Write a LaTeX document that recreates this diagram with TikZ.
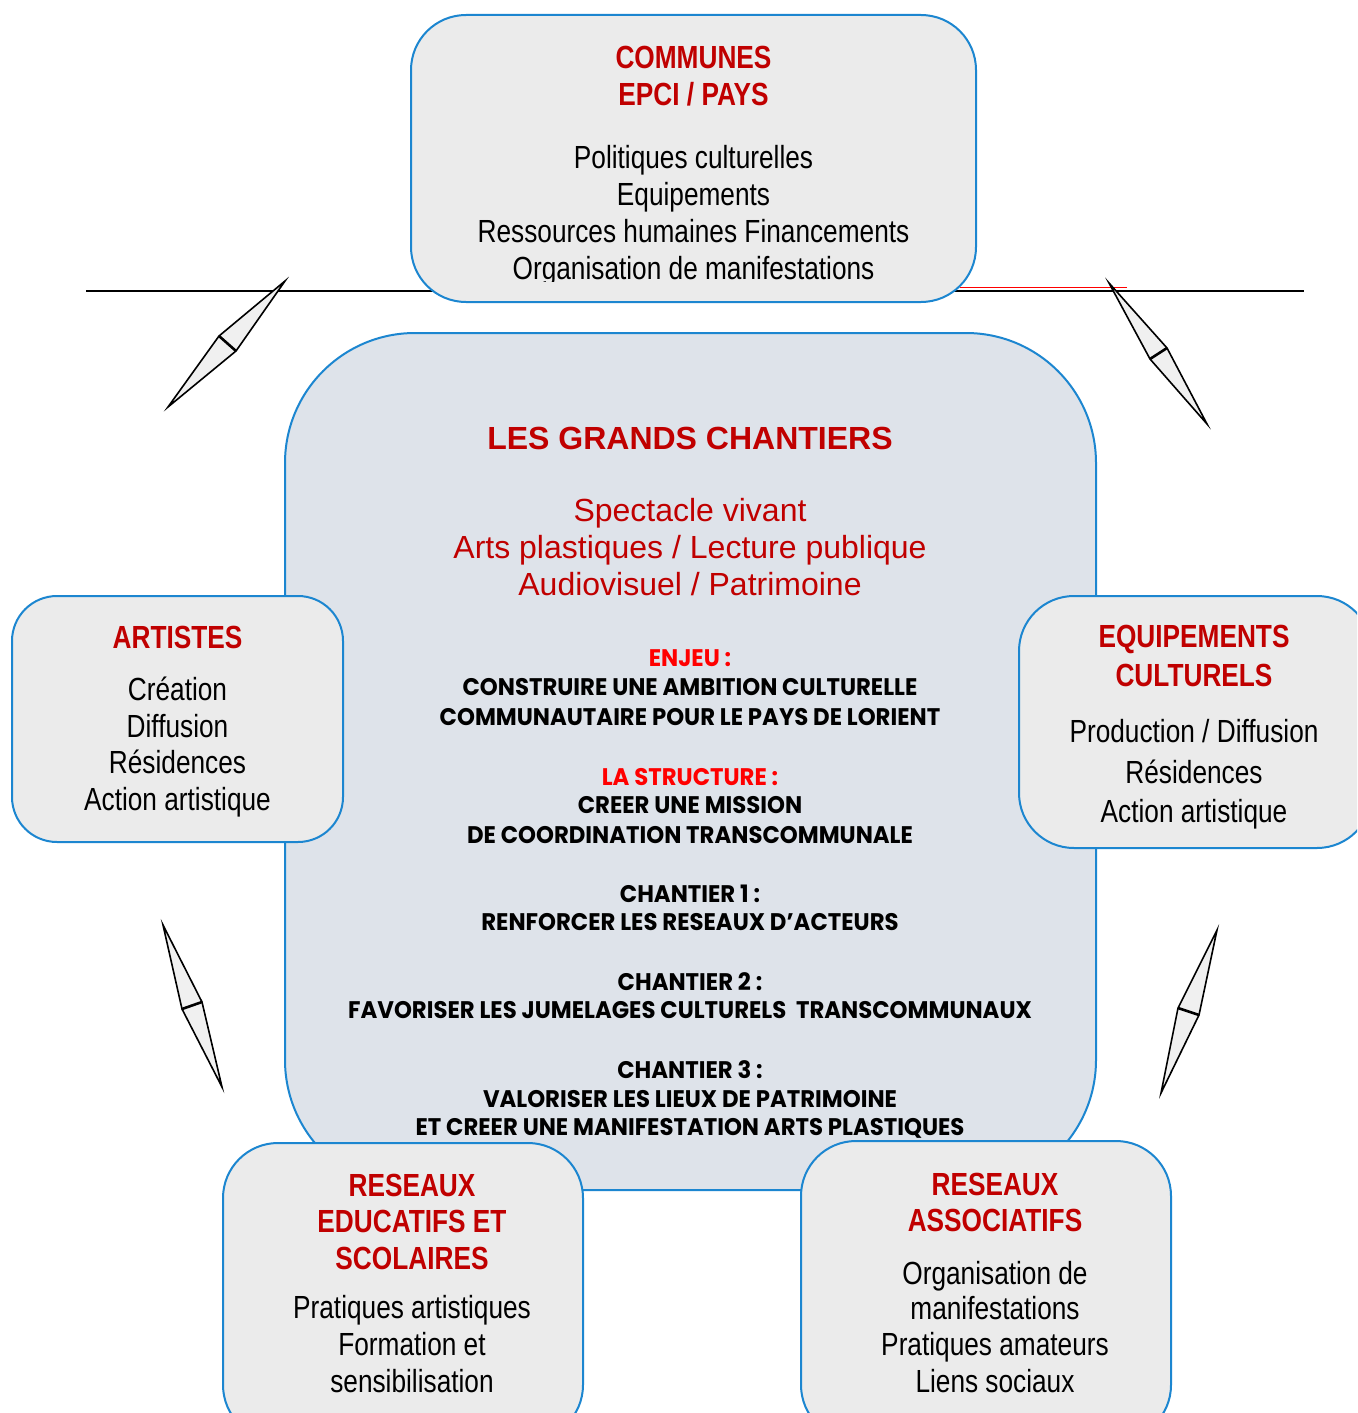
\documentclass[tikz,border=0pt]{standalone}
\usepackage{fontspec}
\setmainfont{Liberation Sans}
\newfontfamily\narrowfont[FakeStretch=0.82]{Liberation Sans}
\newfontfamily\gothicfont[FakeStretch=0.95]{Poppins}
\definecolor{bblue}{RGB}{28,134,208}
\definecolor{boxgray}{RGB}{235,235,235}
\definecolor{cgray}{RGB}{222,227,234}
\definecolor{dred}{RGB}{192,0,0}
\definecolor{bred}{RGB}{255,0,0}
\definecolor{needlefill}{RGB}{240,240,240}
\tikzset{
  box/.style={draw=bblue, line width=2pt, fill=boxgray, rounded corners=55pt, inner sep=0pt},
  cbox/.style={draw=bblue, line width=2pt, fill=cgray, rounded corners=130pt, inner sep=0pt},
  ttl/.style={anchor=base, inner sep=0pt, text=dred, font=\narrowfont\bfseries\fontsize{32}{37}\selectfont},
  txt/.style={anchor=base, inner sep=0pt, font=\narrowfont\fontsize{32}{37}\selectfont},
  bigttl/.style={anchor=base, inner sep=0pt, text=dred, font=\bfseries\fontsize{32}{37}\selectfont},
  subttl/.style={anchor=base, inner sep=0pt, text=dred, font=\fontsize{32}{37}\selectfont},
  gb/.style={anchor=base, inner sep=0pt, font=\gothicfont\bfseries\fontsize{24}{29}\selectfont},
  gbr/.style={gb, text=bred},
  needle/.style={draw=black, line width=1.6pt, fill=needlefill, line join=miter},
  needlebar/.style={draw=black, line width=2.6pt},
  hline/.style={draw=black, line width=2pt},
}
\begin{document}
\begin{tikzpicture}[x=1pt,y=-1pt]
\useasboundingbox (0,0) rectangle (1357,1413);
\clip (0,0) rectangle (1357,1413);
\fill[white] (0,0) rectangle (1357,1413);

% horizontal lines
\coordinate (hl1) at (86,291);
\coordinate (hl2) at (1304,291);
\draw[hline] (hl1) -- (hl2);
\coordinate (rl1) at (960,287);
\coordinate (rl2) at (1127,287);
\draw[bred, line width=1pt] (rl1) -- (rl2);

% central box
\node[cbox, minimum width=811pt, minimum height=857pt] (central) at (690.5,761.5) {};

% outer boxes
\node[box, minimum width=565pt, minimum height=287pt] (communes) at (693.5,158.5) {};
\node[box, rounded corners=45pt, minimum width=331pt, minimum height=246pt] (artistes) at (177.5,719) {};
\node[box, minimum width=353pt, minimum height=252pt] (equip) at (1195.5,722) {};
\node[box, minimum width=360pt, minimum height=297pt] (educ) at (403,1291.5) {};
\node[box, minimum width=370pt, minimum height=299pt] (asso) at (986,1290.5) {};

% needles
\coordinate (n1a) at (285,281); \coordinate (n1b) at (168,407);
\coordinate (n1c) at (219,336); \coordinate (n1d) at (236,351);
\draw[needle] (n1a) -- (n1d) -- (n1b) -- (n1c) -- cycle;
\draw[needlebar] (n1c) -- (n1d);

\coordinate (n2a) at (1109,283); \coordinate (n2b) at (1207,424);
\coordinate (n2c) at (1150,359); \coordinate (n2d) at (1167,348);
\draw[needle] (n2a) -- (n2d) -- (n2b) -- (n2c) -- cycle;
\draw[needlebar] (n2c) -- (n2d);

\coordinate (n3a) at (163,925); \coordinate (n3b) at (222,1087);
\coordinate (n3c) at (182,1009); \coordinate (n3d) at (202,1002);
\draw[needle] (n3a) -- (n3d) -- (n3b) -- (n3c) -- cycle;
\draw[needlebar] (n3c) -- (n3d);

\coordinate (n4a) at (1217,930); \coordinate (n4b) at (1161,1093);
\coordinate (n4c) at (1178,1008); \coordinate (n4d) at (1199,1015);
\draw[needle] (n4a) -- (n4d) -- (n4b) -- (n4c) -- cycle;
\draw[needlebar] (n4c) -- (n4d);

% communes text
\node[ttl] (c1) at (693.5,68.5) {COMMUNES};
\node[ttl] (c2) at (693.5,105.5) {EPCI / PAYS};
\node[txt] (c3) at (693.5,168) {Politiques culturelles};
\node[txt] (c4) at (693.5,205) {Equipements};
\node[txt] (c5) at (693.5,242) {Ressources humaines Financements};
\begin{scope}
\clip (411,15) rectangle (976,281);
\node[txt] (c6) at (693.5,279) {Organisation de manifestations};
\end{scope}

% artistes text
\node[ttl] (a1) at (177.5,648) {ARTISTES};
\node[txt] (a2) at (177.5,700) {Création};
\node[txt] (a3) at (177.5,737) {Diffusion};
\node[txt] (a4) at (177.5,773) {Résidences};
\node[txt] (a5) at (177.5,810) {Action artistique};

% equipements text
\node[ttl] (e1) at (1194,647) {EQUIPEMENTS};
\node[ttl] (e2) at (1194,686) {CULTURELS};
\node[txt] (e3) at (1194,742) {Production / Diffusion};
\node[txt] (e4) at (1194,783) {Résidences};
\begin{scope}
\clip (1019,596) rectangle (1357,828);
\node[txt] (e5) at (1194,822) {Action artistique};
\end{scope}

% educatifs text
\node[ttl] (r1) at (412,1196) {RESEAUX};
\node[ttl] (r2) at (412,1232) {EDUCATIFS ET};
\node[ttl] (r3) at (412,1269) {SCOLAIRES};
\node[txt] (r4) at (412,1318) {Pratiques artistiques};
\node[txt] (r5) at (412,1355) {Formation et};
\node[txt] (r6) at (412,1392) {sensibilisation};

% associatifs text
\node[ttl] (s1) at (995,1195) {RESEAUX};
\node[ttl] (s2) at (995,1231) {ASSOCIATIFS};
\node[txt] (s3) at (995,1284) {Organisation de};
\node[txt] (s4) at (995,1319) {manifestations};
\node[txt] (s5) at (995,1355) {Pratiques amateurs};
\node[txt] (s6) at (995,1392) {Liens sociaux};

% central text
\node[bigttl] (g0) at (690,449) {LES GRANDS CHANTIERS};
\node[subttl] (g1) at (690,521) {Spectacle vivant};
\node[subttl] (g2) at (690,558) {Arts plastiques / Lecture publique};
\node[subttl] (g3) at (690,595) {Audiovisuel / Patrimoine};

\node[gbr] (k1) at (690,666) {ENJEU :};
\node[gb] (k2) at (690,695) {CONSTRUIRE UNE AMBITION CULTURELLE};
\node[gb] (k3) at (690,725) {COMMUNAUTAIRE POUR LE PAYS DE LORIENT};
\node[gbr] (k4) at (690,785) {LA STRUCTURE :};
\node[gb] (k5) at (690,813) {CREER UNE MISSION};
\node[gb] (k6) at (690,843) {DE COORDINATION TRANSCOMMUNALE};
\node[gb] (k7) at (690,902) {CHANTIER 1 :};
\node[gb] (k8) at (690,930) {RENFORCER LES RESEAUX D’ACTEURS};
\node[gb] (k9) at (690,990) {CHANTIER 2 :};
\node[gb] (k10) at (690,1018) {FAVORISER LES JUMELAGES CULTURELS\ \ TRANSCOMMUNAUX};
\node[gb] (k11) at (690,1078) {CHANTIER 3 :};
\node[gb] (k12) at (690,1107) {VALORISER LES LIEUX DE PATRIMOINE};
\node[gb] (k13) at (690,1135) {ET CREER UNE MANIFESTATION ARTS PLASTIQUES};
\end{tikzpicture}
\end{document}
